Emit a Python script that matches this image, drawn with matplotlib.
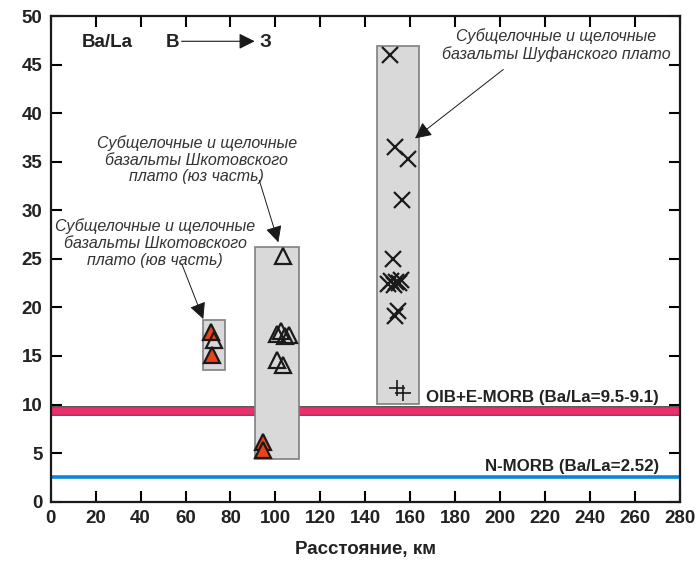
import numpy as np
import matplotlib.pyplot as plt
import matplotlib.patheffects as pe
from matplotlib.patches import Rectangle

plt.rcParams['font.family'] = ['Liberation Sans', 'DejaVu Sans']

## DATA ##
# Shkotovo plateau, SE part
se_red_x = [71.5, 72.0]
se_red_y = [17.5, 15.1]
se_open_x = [72.5]
se_open_y = [16.6]
# Shkotovo plateau, SW part
sw_open_x = [103.2, 100.5, 102.3, 104.3, 106.2, 100.5, 103.5]
sw_open_y = [25.3, 17.3, 17.6, 17.1, 17.2, 14.6, 14.1]
sw_red_x = [94.3, 94.3]
sw_red_y = [6.1, 5.3]
# Shufan plateau
sh_x = [151.0, 153.2, 159.1, 156.2, 152.2, 150.0, 151.5, 152.8, 153.8, 155.0, 156.0, 154.7, 153.2]
sh_y = [46.0, 36.5, 35.3, 31.1, 25.0, 22.4, 22.7, 22.3, 22.6, 22.5, 22.8, 19.6, 19.1]
sh_plus_x = [154.0, 156.6]
sh_plus_y = [11.7, 11.2]

# field boxes: x0, x1, y0, y1
boxes = [(67.8, 77.5, 13.6, 18.7),
         (90.9, 110.5, 4.4, 26.2),
         (145.0, 163.9, 10.1, 46.9)]

oib_band = [9.1, 9.5]
nmorb = 2.52

## PLOT ##
fig = plt.figure(figsize=(6.99, 5.66), dpi=100)
ax = fig.add_axes([0.0725, 0.1136, 0.9003, 0.8581])

for x0, x1, y0, y1 in boxes:
    ax.add_patch(Rectangle((x0, y0), x1 - x0, y1 - y0, facecolor='#d9d9d9',
                           edgecolor='#7f7f7f', lw=1.2, zorder=3))

ax.axhline(np.mean(oib_band), color='#ec2f6c', lw=5.5, zorder=2,
           path_effects=[pe.Stroke(linewidth=7, foreground='#4a3a40'), pe.Normal()])
ax.axhline(nmorb, color='#0a86d8', lw=2.6, zorder=2)

tri = dict(marker='^', ms=11.5, mew=1.6, mec='#1a1a1a', ls='none', zorder=5)
ax.plot(se_red_x, se_red_y, mfc='#e8431a', **tri)
ax.plot(se_open_x, se_open_y, mfc='none', **tri)
ax.plot(sw_open_x, sw_open_y, mfc='none', **tri)
ax.plot(sw_red_x, sw_red_y, mfc='#e8431a', **tri)
ax.plot(sh_x, sh_y, marker='x', ms=11, mew=1.6, color='#1a1a1a', ls='none', zorder=5)
ax.plot(sh_plus_x, sh_plus_y, marker='+', ms=12, mew=1.2, color='#1a1a1a', ls='none', zorder=5)

ax.text(270.5, 10.7, 'OIB+E-MORB (Ba/La=9.5-9.1)', ha='right', va='center',
        fontsize=12.2, fontweight='bold', color='#222222', zorder=6)
ax.text(270.5, 3.6, 'N-MORB (Ba/La=%.2f)' % nmorb, ha='right', va='center',
        fontsize=12.2, fontweight='bold', color='#222222', zorder=6)

ax.text(14, 47.3, 'Ba/La', fontsize=13.5, fontweight='bold', va='center', color='#222222')
ax.text(51, 47.3, 'В', fontsize=13.5, fontweight='bold', va='center', color='#222222')
ax.text(93, 47.3, 'З', fontsize=13.5, fontweight='bold', va='center', color='#222222')
ax.annotate('', xy=(92, 47.4), xytext=(57, 47.4),
            arrowprops=dict(arrowstyle='-|>', lw=0.8, color='#1a1a1a', mutation_scale=24))

note = dict(fontsize=11.5, style='italic', color='#333333', ha='center', va='center',
            linespacing=1.15)
arrow = dict(arrowstyle='-|>', lw=0.7, color='#1a1a1a', mutation_scale=25,
             shrinkA=0, shrinkB=0)
ax.text(65, 35.2, 'Субщелочные и щелочные\nбазальты Шкотовского\nплато (юз часть)', **note)
ax.annotate('', xy=(101.3, 26.7), xytext=(92.8, 33.1), arrowprops=arrow)
ax.text(46.4, 26.6, 'Субщелочные и щелочные\nбазальты Шкотовского\nплато (юв часть)', **note)
ax.annotate('', xy=(67.9, 18.8), xytext=(58.3, 24.5), arrowprops=arrow)
ax.text(225, 47.0, 'Субщелочные и щелочные\nбазальты Шуфанского плато', **note)
ax.annotate('', xy=(162.1, 37.4), xytext=(201.4, 44.5), arrowprops=arrow)

ax.set_xlim(0, 280)
ax.set_ylim(0, 50)
ax.set_xticks(np.arange(0, 281, 20))
ax.set_yticks(np.arange(0, 51, 5))
ax.tick_params(direction='in', length=8, width=1.5, top=True, right=True,
               labelsize=13.5, labelcolor='#222222', pad=6)
for lab in ax.get_xticklabels() + ax.get_yticklabels():
    lab.set_fontweight('bold')
for s in ax.spines.values():
    s.set_linewidth(1.6)
    s.set_color('#1a1a1a')

ax.set_xlabel('Расстояние, км', fontsize=13.5, fontweight='bold', color='#222222', labelpad=10)

fig.savefig('out.png', dpi=100)
